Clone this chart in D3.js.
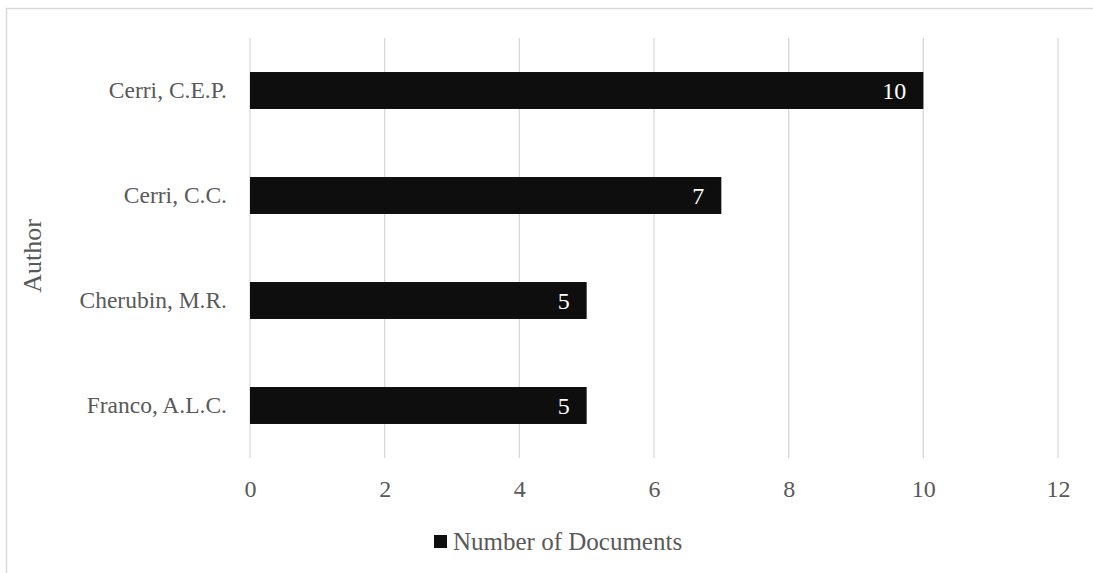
<!DOCTYPE html>
<html>
<head>
<meta charset="utf-8">
<script src="https://cdn.jsdelivr.net/npm/d3@7"></script>
<style>
  html, body { margin: 0; padding: 0; background: #fff; }
  svg { display: block; }
  text { font-family: "Liberation Serif", serif; }
</style>
</head>
<body>
<svg id="chart" width="1093" height="573"></svg>
<script>
const authors = ["Cerri, C.E.P.", "Cerri, C.C.", "Cherubin, M.R.", "Franco, A.L.C."];
const documents = [10, 7, 5, 5];
const xTicks = [0, 2, 4, 6, 8, 10, 12];
const seriesName = "Number of Documents";
const yTitle = "Author";

const svg = d3.select("#chart");
const W = 1093, H = 573;
const plot = { left: 250, right: 1058, top: 38, bottom: 458 };

// outer chart border
svg.append("rect")
  .attr("x", 6.5).attr("y", 8.5)
  .attr("width", W + 20).attr("height", H + 20)
  .attr("fill", "none").attr("stroke", "#d9d9d9").attr("stroke-width", 1.5);

const x = d3.scaleLinear().domain([0, 12]).range([plot.left, plot.right]);
const y = d3.scaleBand().domain(authors).range([plot.top, plot.bottom])
  .paddingInner(0.648).paddingOuter(0.324);

// gridlines
svg.append("g").selectAll("line").data(xTicks).join("line")
  .attr("x1", d => x(d)).attr("x2", d => x(d))
  .attr("y1", plot.top).attr("y2", plot.bottom)
  .attr("stroke", "#d9d9d9").attr("stroke-width", 1.3);

// bars
svg.append("g").selectAll("rect").data(authors).join("rect")
  .attr("x", x(0))
  .attr("y", d => y(d))
  .attr("width", (d, i) => x(documents[i]) - x(0))
  .attr("height", y.bandwidth())
  .attr("fill", "#0e0e0e");

// data labels
svg.append("g").selectAll("text").data(authors).join("text")
  .attr("x", (d, i) => x(documents[i]) - 17)
  .attr("y", d => y(d) + y.bandwidth() / 2)
  .attr("dy", "0.35em")
  .attr("text-anchor", "end")
  .attr("fill", "#ffffff")
  .attr("font-size", 24)
  .text((d, i) => documents[i]);

// y axis (category labels)
const yAxis = d3.axisLeft(y).tickSize(0).tickPadding(23);
const gy = svg.append("g").attr("transform", `translate(${plot.left},0)`).call(yAxis);
gy.select(".domain").remove();
gy.selectAll("text").attr("font-size", 23.5).attr("fill", "#595959")
  .attr("font-family", "Liberation Serif, serif");

// x axis
const xAxis = d3.axisBottom(x).tickValues(xTicks).tickSize(0).tickPadding(22).tickFormat(d3.format("d"));
const gx = svg.append("g").attr("transform", `translate(0,${plot.bottom})`).call(xAxis);
gx.select(".domain").remove();
gx.selectAll("text").attr("font-size", 24).attr("fill", "#595959")
  .attr("font-family", "Liberation Serif, serif");

// y axis title
svg.append("text")
  .attr("transform", `translate(41,256) rotate(-90)`)
  .attr("text-anchor", "middle")
  .attr("font-size", 26)
  .attr("fill", "#595959")
  .text(yTitle);

// legend
const lg = svg.append("g");
lg.append("rect").attr("x", 434).attr("y", 535).attr("width", 13).attr("height", 13).attr("fill", "#0e0e0e");
lg.append("text").attr("x", 453).attr("y", 541.5).attr("dy", "0.35em")
  .attr("font-size", 25).attr("fill", "#595959").text(seriesName);
</script>
</body>
</html>
